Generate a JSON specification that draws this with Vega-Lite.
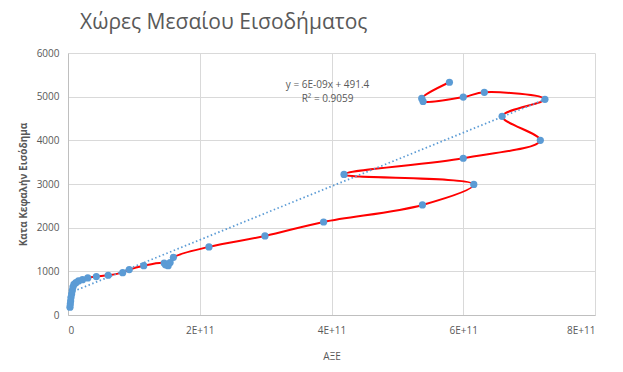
{
  "$schema": "https://vega.github.io/schema/vega-lite/v6.json",
  "width": 527,
  "height": 262,
  "autosize": {"type": "none"},
  "padding": {"left": 68, "top": 53, "right": 28, "bottom": 57},
  "background": "white",
  "title": {
    "text": "Χώρες Μεσαίου Εισοδήματος",
    "anchor": "start",
    "frame": "group",
    "dx": 12,
    "offset": 15,
    "font": "Open Sans",
    "fontSize": 21,
    "fontWeight": "normal",
    "color": "#595959"
  },
  "config": {
    "view": {"stroke": null},
    "axis": {
      "labelFont": "Open Sans",
      "labelFontSize": 10,
      "labelColor": "#595959",
      "titleFont": "Open Sans",
      "titleColor": "#595959",
      "gridColor": "#d9d9d9",
      "domainColor": "#bfbfbf",
      "ticks": false
    }
  },
  "datasets": {
    "pts": [
      {"o": 1, "axe": 3.0e9, "kke": 180},
      {"o": 2, "axe": 3.5e9, "kke": 250},
      {"o": 3, "axe": 4.0e9, "kke": 320},
      {"o": 4, "axe": 4.5e9, "kke": 400},
      {"o": 5, "axe": 5.5e9, "kke": 480},
      {"o": 6, "axe": 6.5e9, "kke": 560},
      {"o": 7, "axe": 7.5e9, "kke": 640},
      {"o": 8, "axe": 9.0e9, "kke": 700},
      {"o": 9, "axe": 1.2e10, "kke": 740},
      {"o": 10, "axe": 1.6e10, "kke": 780},
      {"o": 11, "axe": 2.2e10, "kke": 810},
      {"o": 12, "axe": 3.0e10, "kke": 850},
      {"o": 13, "axe": 4.3e10, "kke": 880},
      {"o": 14, "axe": 6.1e10, "kke": 910},
      {"o": 15, "axe": 8.3e10, "kke": 970},
      {"o": 16, "axe": 9.3e10, "kke": 1040},
      {"o": 17, "axe": 1.15e11, "kke": 1130},
      {"o": 18, "axe": 1.46e11, "kke": 1190},
      {"o": 19, "axe": 1.48e11, "kke": 1150},
      {"o": 20, "axe": 1.52e11, "kke": 1130},
      {"o": 21, "axe": 1.55e11, "kke": 1200},
      {"o": 22, "axe": 1.6e11, "kke": 1320},
      {"o": 23, "axe": 2.14e11, "kke": 1560},
      {"o": 24, "axe": 2.99e11, "kke": 1810},
      {"o": 25, "axe": 3.88e11, "kke": 2130},
      {"o": 26, "axe": 5.38e11, "kke": 2520},
      {"o": 27, "axe": 6.16e11, "kke": 2990},
      {"o": 28, "axe": 4.19e11, "kke": 3220},
      {"o": 29, "axe": 6.0e11, "kke": 3590},
      {"o": 30, "axe": 7.17e11, "kke": 4000},
      {"o": 31, "axe": 6.59e11, "kke": 4550},
      {"o": 32, "axe": 7.24e11, "kke": 4940},
      {"o": 33, "axe": 6.32e11, "kke": 5100},
      {"o": 34, "axe": 6.0e11, "kke": 4990},
      {"o": 35, "axe": 5.39e11, "kke": 4890},
      {"o": 36, "axe": 5.37e11, "kke": 4960},
      {"o": 37, "axe": 5.79e11, "kke": 5330}
    ],
    "trend": [
      {"axe": 3.0e9, "kke": 510},
      {"axe": 7.24e11, "kke": 4937}
    ],
    "eq": [
      {"axe": 3.94e11, "kke": 5275, "label": "y = 6E-09x + 491.4"},
      {"axe": 3.94e11, "kke": 4954, "label": "R² = 0.9059"}
    ]
  },
  "layer": [
    {
      "data": {"name": "pts"},
      "mark": {"type": "line", "color": "#ff0000", "strokeWidth": 2, "interpolate": "catmull-rom"},
      "encoding": {
        "x": {
          "field": "axe", "type": "quantitative",
          "scale": {"domain": [0, 8e11], "nice": false},
          "axis": {
            "title": "ΑΞΕ",
            "titleFontSize": 10,
            "titleFontWeight": "normal",
            "titlePadding": 16,
            "values": [0, 2e11, 4e11, 6e11, 8e11],
            "labelExpr": "datum.value == 0 ? '0' : format(datum.value / 1e11, 'd') + 'E+11'",
            "labelPadding": 10,
            "grid": true
          }
        },
        "y": {
          "field": "kke", "type": "quantitative",
          "scale": {"domain": [0, 6000], "nice": false},
          "axis": {
            "title": "Κατα Κεφαλήν  Εισόδημα",
            "titleFontSize": 10,
            "titleFontWeight": "bold",
            "titlePadding": 8,
            "values": [0, 1000, 2000, 3000, 4000, 5000, 6000],
            "format": "d",
            "labelPadding": 9,
            "grid": true
          }
        },
        "order": {"field": "o", "type": "quantitative"}
      }
    },
    {
      "data": {"name": "trend"},
      "mark": {"type": "line", "color": "#5b9bd5", "strokeWidth": 1.75, "strokeDash": [1.5, 2.5]},
      "encoding": {
        "x": {"field": "axe", "type": "quantitative"},
        "y": {"field": "kke", "type": "quantitative"}
      }
    },
    {
      "data": {"name": "pts"},
      "mark": {"type": "circle", "color": "#5b9bd5", "opacity": 1, "size": 52},
      "encoding": {
        "x": {"field": "axe", "type": "quantitative"},
        "y": {"field": "kke", "type": "quantitative"}
      }
    },
    {
      "data": {"name": "eq"},
      "mark": {"type": "text", "font": "Open Sans", "fontSize": 10, "color": "#595959", "align": "center", "baseline": "middle"},
      "encoding": {
        "x": {"field": "axe", "type": "quantitative"},
        "y": {"field": "kke", "type": "quantitative"},
        "text": {"field": "label"}
      }
    }
  ]
}
